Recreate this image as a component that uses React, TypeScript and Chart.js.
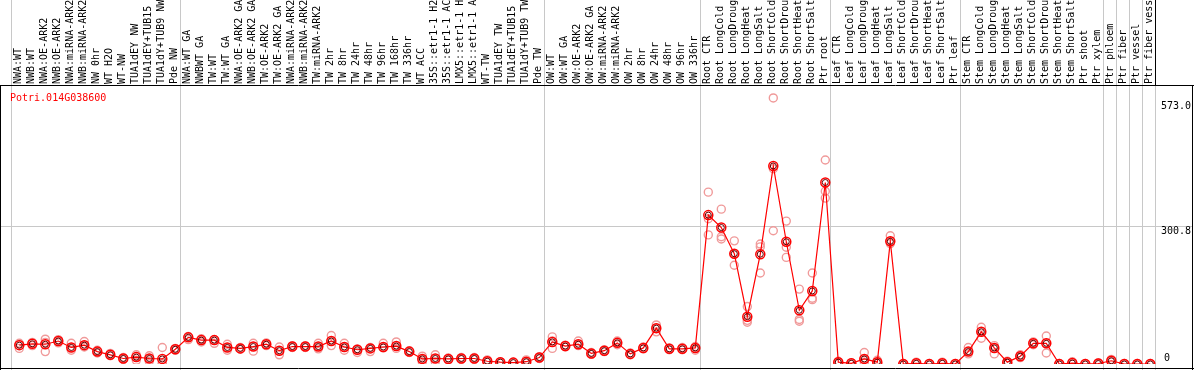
import { useEffect, useRef } from 'react';
import { Chart, registerables } from 'chart.js';

Chart.register(...registerables);

const geneId = 'Potri.014G038600';

const categories = [
  'NWA:WT', 'NWB:WT', 'NWA:OE-ARK2', 'NWB:OE-ARK2', 'NWA:miRNA-ARK2', 'NWB:miRNA-ARK2',
  'NW 0hr', 'WT H2O', 'WT-NW', 'TUA1dEY NW', 'TUA1dEY+TUB15 NW', 'TUA1dY+TUB9 NW', 'Pde NW',
  'NWA:WT GA', 'NWBWT GA', 'TW:WT', 'TW:WT GA', 'NWA:OE-ARK2 GA', 'NWB:OE-ARK2 GA',
  'TW:OE-ARK2', 'TW:OE-ARK2 GA', 'NWA:miRNA-ARK2', 'NWB:miRNA-ARK2', 'TW:miRNA-ARK2',
  'TW 2hr', 'TW 8hr', 'TW 24hr', 'TW 48hr', 'TW 96hr', 'TW 168hr', 'TW 336hr', 'WT ACC',
  '35S::etr1-1 H2O', '35S::etr1-1 ACC', 'LMX5::etr1-1 H2O', 'LMX5::etr1-1 ACC', 'WT-TW',
  'TUA1dEY TW', 'TUA1dEY+TUB15 TW', 'TUA1dY+TUB9 TW', 'Pde TW',
  'OW:WT', 'OW:WT GA', 'OW:OE-ARK2', 'OW:OE-ARK2 GA', 'OW:miRNA-ARK2', 'OW:miRNA-ARK2',
  'OW 2hr', 'OW 8hr', 'OW 24hr', 'OW 48hr', 'OW 96hr', 'OW 336hr',
  'Root CTR', 'Root LongCold', 'Root LongDrought', 'Root LongHeat', 'Root LongSalt',
  'Root ShortCold', 'Root ShortDrought', 'Root ShortHeat', 'Root ShortSalt', 'Ptr root',
  'Leaf CTR', 'Leaf LongCold', 'Leaf LongDrought', 'Leaf LongHeat', 'Leaf LongSalt',
  'Leaf ShortCold', 'Leaf ShortDrought', 'Leaf ShortHeat', 'Leaf ShortSalt', 'Ptr leaf',
  'Stem CTR', 'Stem LongCold', 'Stem LongDrought', 'Stem LongHeat', 'Stem LongSalt',
  'Stem ShortCold', 'Stem ShortDrought', 'Stem ShortHeat', 'Stem ShortSalt', 'Ptr shoot',
  'Ptr xylem', 'Ptr phloem', 'Ptr fiber', 'Ptr vessel', 'Ptr fiber vessel',
];

// index of the last category of each group (separator drawn after it)
const groupEnds = [12, 40, 52, 62, 72, 83, 84, 85, 86, 87];

const meanValues = [
  41, 44, 43, 50, 36, 41, 27, 20, 12, 15, 12, 11, 32,
  58, 52, 52, 36, 34, 38, 43, 29, 38, 38, 38, 50, 37, 31, 34, 37, 39, 27, 11, 12, 11, 12, 12, 6, 4, 3, 5, 14,
  48, 39, 43, 23, 29, 46, 22, 35, 78, 33, 33, 35,
  324, 297, 240, 103, 239, 431, 266, 117, 159, 395,
  4, 1.5, 11, 4, 267, 0, 1.5, 0, 1.5, 0,
  27, 70, 35, 4, 17, 45, 45, 0, 2, 0, 1,
  7, 0, 0, 0,
];

const rep1 = [
  34, 40, 54, 53, 45, 49, 30, 23, 14, 20, 18, 36, 32,
  60, 52, 45, 43, 34, 45, 46, 37, 40, 40, 45, 62, 45, 31, 34, 45, 48, 27, 17, 20, 11, 12, 12, 9, 4, 3, 9, 14,
  59, 39, 50, 23, 29, 50, 22, 35, 85, 33, 33, 38,
  374, 337, 268, 125, 261, 579, 311, 163, 198, 444,
  6, 3, 25, 8, 279, 0, 4, 0, 4, 0,
  36, 80, 40, 6, 20, 48, 61, 0, 5, 0, 3,
  10, 0, 0, 0,
];

const rep2 = [
  45, 47, 27, 46, 30, 37, 24, 18, 10, 8, 6, 2, 30,
  53, 48, 53, 30, 32, 28, 40, 20, 36, 36, 33, 40, 30, 25, 27, 37, 34, 25, 5, 5, 9, 10, 10, 4, 3, 2, 3, 12,
  34, 37, 40, 21, 27, 42, 20, 33, 70, 31, 31, 30,
  316, 277, 215, 91, 198, 290, 254, 97, 143, 376,
  2, 0, 4, 2, 262, 0, 0, 0, 0, 0,
  22, 56, 22, 2, 14, 42, 24, 1, 0, 1, 0,
  5, 1, 1, 1,
];

const rep3 = [
  43, 45, 47, 50, 36, 41, 27, 20, 12, 16, 12, 0, 34,
  58, 55, 52, 36, 36, 38, 43, 29, 38, 38, 38, 50, 37, 33, 36, 35, 39, 29, 11, 12, 13, 14, 14, 6, 5, 4, 5, 16,
  50, 41, 43, 25, 31, 46, 24, 37, 78, 35, 36, 35,
  281, 272, 240, 95, 255, 425, 232, 93, 140, 361,
  4, 1.5, 11, 4, 267, 1, 1, 1, 1, 1,
  27, 70, 35, 4, 17, 45, 45, 0, 2, 0, 1,
  7, 0, 0, 0,
];

const yTicks = [0, 300.8, 573.0];
const yMax = 605;

const MONO = '10px "DejaVu Sans Mono", monospace';

const decorPlugin = {
  id: 'decor',
  beforeDraw(chart: any) {
    const { ctx, width, height } = chart;
    ctx.save();
    ctx.fillStyle = '#ffffff';
    ctx.fillRect(0, 0, width, height);
    ctx.restore();
  },
  beforeDatasetsDraw(chart: any) {
    const { ctx, width, height, chartArea } = chart;
    const xs = chart.scales.x;
    const ys = chart.scales.y;
    const headerBottom = chartArea.top;
    ctx.save();
    // gray separators
    ctx.strokeStyle = '#c8c8c8';
    ctx.lineWidth = 1;
    const sepXs: number[] = [Math.round(xs.getPixelForValue(0) - 8) + 0.5];
    groupEnds.forEach((gi) => sepXs.push(Math.round(xs.getPixelForValue(gi) + 5) + 0.5));
    sepXs.forEach((x, k) => {
      ctx.beginPath();
      ctx.moveTo(x, k === sepXs.length - 1 ? headerBottom : 0);
      ctx.lineTo(x, height);
      ctx.stroke();
    });
    // horizontal gray line at middle tick
    const ym = Math.round(ys.getPixelForValue(yTicks[1])) + 0.5;
    ctx.beginPath();
    ctx.moveTo(0, ym);
    ctx.lineTo(width - 2, ym);
    ctx.stroke();

    // black frame
    ctx.strokeStyle = '#000000';
    ctx.beginPath();
    ctx.moveTo(0, Math.round(headerBottom) - 0.5);
    ctx.lineTo(width, Math.round(headerBottom) - 0.5);
    ctx.moveTo(0.5, headerBottom);
    ctx.lineTo(0.5, height);
    ctx.moveTo(width - 1.5, headerBottom);
    ctx.lineTo(width - 1.5, height);
    ctx.moveTo(0, height - 1.5);
    ctx.lineTo(width, height - 1.5);
    const lastX = sepXs[sepXs.length - 1];
    ctx.moveTo(lastX, 0);
    ctx.lineTo(lastX, headerBottom);
    ctx.stroke();

    // rotated header labels
    ctx.fillStyle = '#000000';
    ctx.font = MONO;
    ctx.textAlign = 'left';
    ctx.textBaseline = 'alphabetic';
    categories.forEach((lab, i) => {
      const px = xs.getPixelForValue(i);
      ctx.save();
      ctx.translate(Math.round(px + 2), headerBottom - 2);
      ctx.rotate(-Math.PI / 2);
      ctx.fillText(lab, 0, 0);
      ctx.restore();
    });

    // gene id
    ctx.fillStyle = '#ff0000';
    ctx.textBaseline = 'top';
    ctx.fillText(geneId, 10, headerBottom + 7);

    // y tick labels
    ctx.fillStyle = '#000000';
    yTicks.forEach((v) => {
      const y = ys.getPixelForValue(v);
      const txt = v === 0 ? '0' : v.toFixed(1);
      if (v === 0) {
        ctx.textBaseline = 'bottom';
        ctx.fillText(txt, 1164, y - 1);
      } else {
        ctx.textBaseline = 'top';
        ctx.fillText(txt, 1161, y + 1);
      }
    });
    ctx.restore();
  },
};

export default function App() {
  const canvasRef = useRef<HTMLCanvasElement | null>(null);

  useEffect(() => {
    document.body.style.margin = '0';
    const canvas = canvasRef.current;
    if (!canvas) return;
    const repStyle = {
      showLine: false,
      pointStyle: 'circle',
      pointRadius: 4,
      pointBorderWidth: 1.4,
      pointBorderColor: '#f09a9a',
      pointBackgroundColor: 'rgba(0,0,0,0)',
      borderColor: '#f09a9a',
      backgroundColor: 'rgba(0,0,0,0)',
      order: 3,
    };
    const chart = new Chart(canvas, {
      type: 'line',
      data: {
        labels: categories,
        datasets: [
          {
            label: 'inner',
            data: meanValues,
            showLine: false,
            pointRadius: 3,
            pointBorderWidth: 1,
            pointBorderColor: '#600000',
            pointBackgroundColor: 'rgba(0,0,0,0)',
            borderColor: '#600000',
            order: 0,
          },
          {
            label: 'mean',
            data: meanValues,
            borderColor: '#ff0000',
            borderWidth: 1.2,
            tension: 0,
            pointRadius: 4.5,
            pointBorderWidth: 1.5,
            pointBorderColor: '#ff0000',
            pointBackgroundColor: 'rgba(0,0,0,0)',
            order: 1,
          },
          { label: 'rep1', data: rep1, ...repStyle },
          { label: 'rep2', data: rep2, ...repStyle },
          { label: 'rep3', data: rep3, ...repStyle },
        ] as any,
      },
      options: {
        animation: false,
        responsive: false,
        maintainAspectRatio: false,
        layout: { padding: { left: 12.8, right: 37.2, top: 86, bottom: 1.6 } },
        plugins: { legend: { display: false }, tooltip: { enabled: false } },
        events: [],
        scales: {
          x: { type: 'category', display: false, offset: true },
          y: { display: false, min: 0, max: yMax },
        },
      },
      plugins: [decorPlugin],
    });
    return () => chart.destroy();
  }, []);

  return (
    <div style={{ width: 1194, height: 370 }}>
      <canvas ref={canvasRef} width={1194} height={370} style={{ display: 'block', width: 1194, height: 370 }} />
    </div>
  );
}
